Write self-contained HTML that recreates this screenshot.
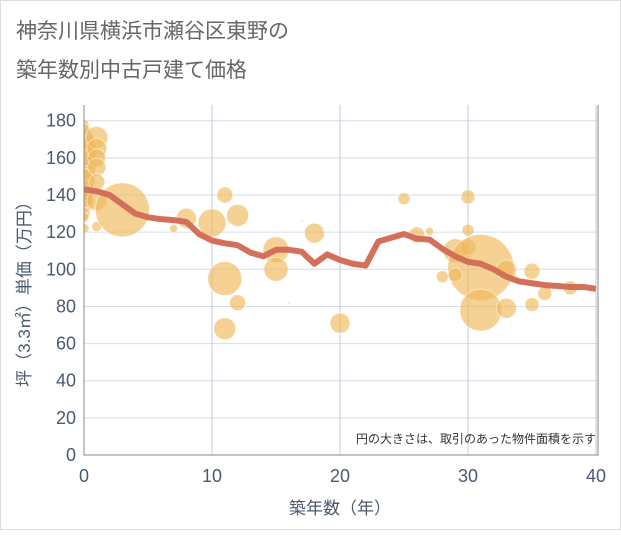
<!DOCTYPE html>
<html><head><meta charset="utf-8"><style>
body{margin:0;background:#fff;font-family:"Liberation Sans","Noto Sans CJK JP",sans-serif;}
svg text{font-family:"Liberation Sans","Noto Sans CJK JP",sans-serif;}
</style></head><body>
<svg id="c" width="621" height="530" viewBox="0 0 621 530">
<rect x="0.5" y="0.5" width="620" height="529" fill="#fff" stroke="#ddd"/>
<text x="16" y="38" font-size="21" fill="#666">神奈川県横浜市瀬谷区東野の</text>
<text x="16" y="77" font-size="21" fill="#666">築年数別中古戸建て価格</text>
<defs><clipPath id="pc"><rect x="84" y="105" width="514" height="350"/></clipPath></defs>
<g id="grid"></g>
<g id="bubbles" clip-path="url(#pc)"></g>
<g id="line"></g>
<g id="axes"></g>
<text x="596" y="443" font-size="12" fill="#333" text-anchor="end">円の大きさは、取引のあった物件面積を示す</text>
<text x="340" y="514" font-size="17" fill="#4a5a70" text-anchor="middle">築年数（年）</text>
<text transform="translate(30,290) rotate(-90)" font-size="17" fill="#4a5a70" text-anchor="middle">坪（3.3㎡）単価（万円）</text>
</svg>
<script>
const xTicks=[0,10,20,30,40];
const yTicks=[0,20,40,60,80,100,120,140,160,180];
const lineYears=[0,1,2,3,4,5,6,7,8,9,10,11,12,13,14,15,16,17,18,19,20,21,22,23,24,25,26,27,28,29,30,31,32,33,34,35,36,37,38,39,40];
const lineValues=[143,142,140,135,130,128,127,126.5,125.5,119,115.5,114,113,109,107,110.5,110.5,109.5,103,108,105,103,102,115,117,119,116.5,116,111,107,104,103,100,96,93.5,92.5,91.5,91,90.5,90.5,89.5];
const bubbleYears=[0,0,0,0,0,0,0,0,0,0,0,0,0,0,0,0,0,0,1,1,1,1,1,1,1,3,7,8,10,11,11,11,12,12,15,15,16,17,18,20,25,30,26,27,30,29,30,31,31,29,28,33,33,35,35,36,38];
const bubbleValues=[178,172,168,165,158,155,150,143,140,136,130,128,122,162,170,148,138,175,171,165,160,155,147,137,123,132,122,127.5,125,140,95,68,129,82,110.5,100,82,126,119.5,71,138,139,118.5,120.5,121,110,112,101,78,97,96,79,99.6,99,81,87,90];
const bubbleSizes=[5,8,10,12,10,12,8,10,8,10,6,5,5,12,10,11,9,6,11,10,9,9,8,10,5,27,4,10,14,8,17,11,11,8,13,12,1,1,10,10,6,7,8,4,6,12,8,33,21,7,6,10,10,8,7,7,7];
const X=v=>84+v*12.8, Y=v=>455-v*1.857;
const NS='http://www.w3.org/2000/svg';
function mk(t,a,p){const e=document.createElementNS(NS,t);for(const k in a)e.setAttribute(k,a[k]);p.appendChild(e);return e;}
const grid=document.getElementById('grid'),axes=document.getElementById('axes');
yTicks.forEach(v=>{const l=mk('line',{x1:84,x2:598,y1:Y(v),y2:Y(v),stroke:'#d5dde8','stroke-width':1},grid);


const t=mk('text',{x:76,y:Y(v)+6,'font-size':18,fill:'#4a5a70','text-anchor':'end'},axes);t.textContent=v;

});
xTicks.forEach(v=>{const l=mk('line',{x1:X(v),x2:X(v),y1:105,y2:455,stroke:'#c0cddd','stroke-width':1},grid);


const t=mk('text',{x:X(v),y:482,'font-size':18,fill:'#4a5a70','text-anchor':'middle'},axes);t.textContent=v;

});
const ax=mk('path',{d:'M84 105V455H598V105',fill:'none',stroke:'#888','stroke-width':1},axes);


const bg=document.getElementById('bubbles');
bubbleYears.forEach((yr,i)=>{const c=mk('circle',{cx:X(yr),cy:Y(bubbleValues[i]),r:bubbleSizes[i],fill:'#f0b85a','fill-opacity':0.65,stroke:'#fff','stroke-opacity':0.5,'stroke-width':1},bg);

});
const p=mk('polyline',{points:lineYears.map((y,i)=>X(y)+','+Y(lineValues[i])).join(' '),fill:'none',stroke:'#d4705a','stroke-width':6,'stroke-linejoin':'round'},document.getElementById('line'));


</script>
</body></html>
